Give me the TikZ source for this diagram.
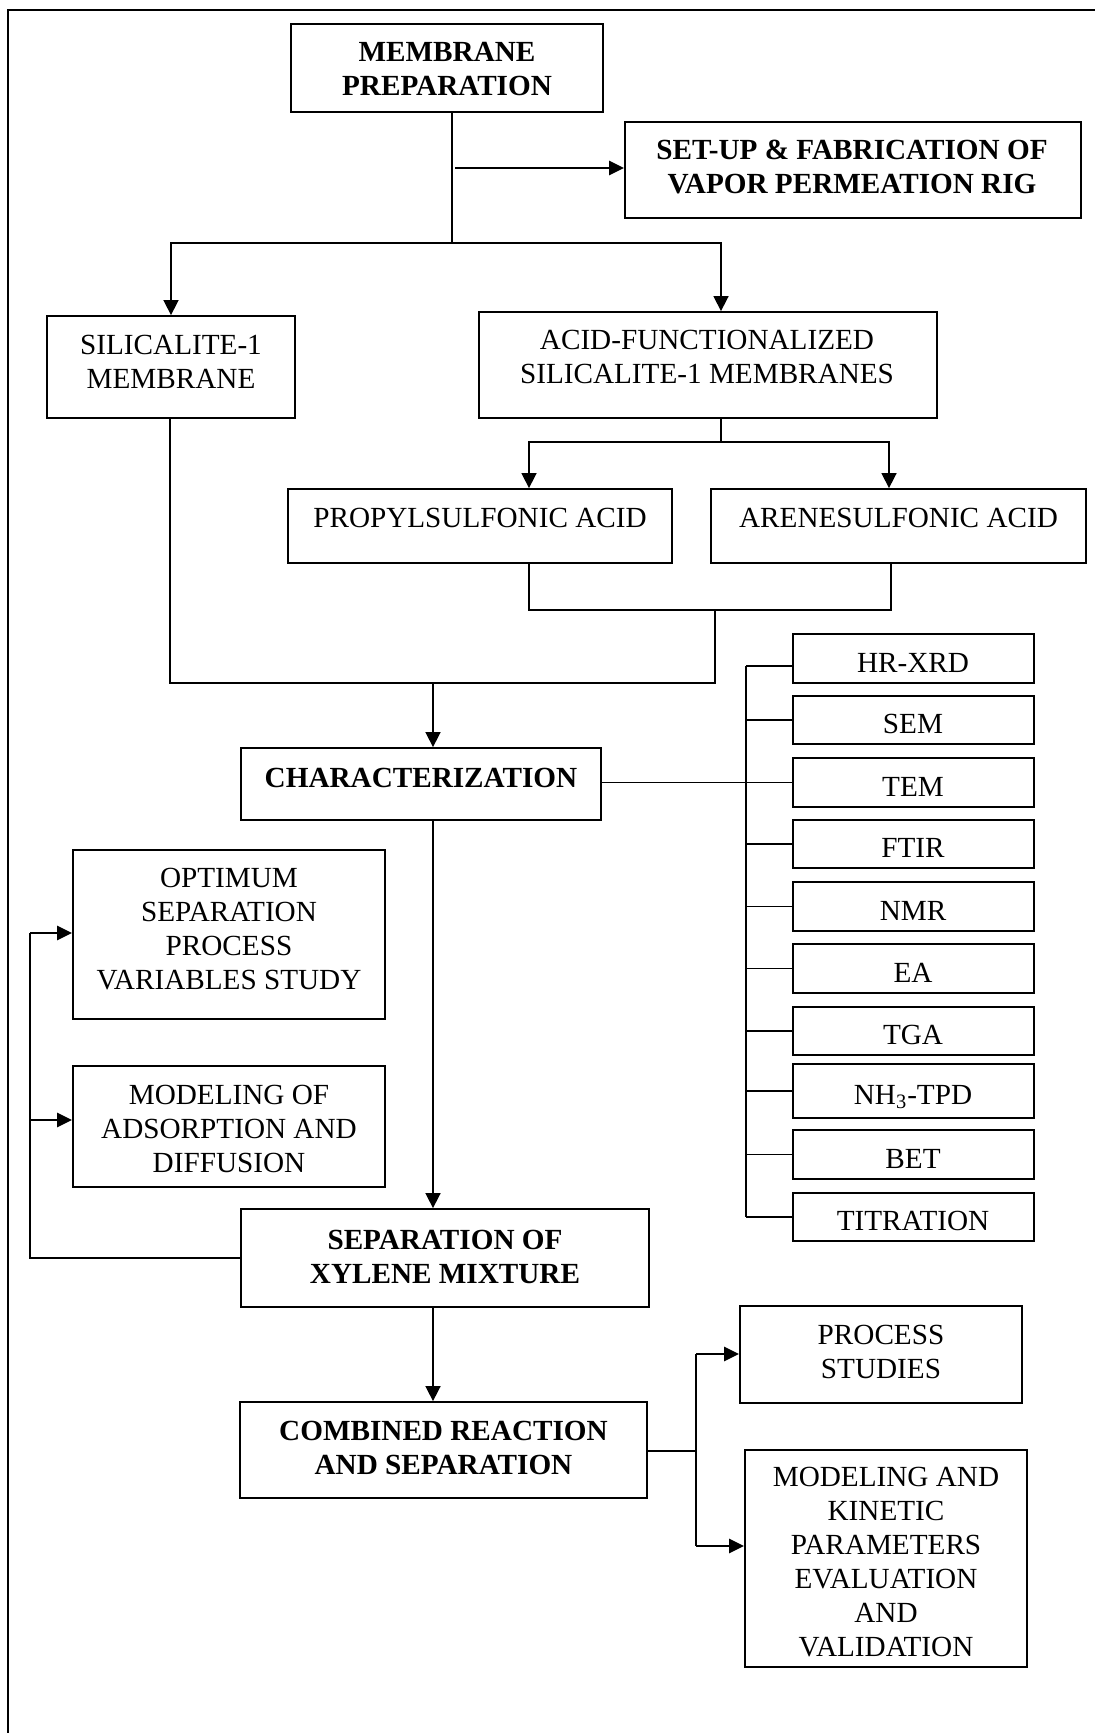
\documentclass[tikz,border=0pt]{standalone}
\usepackage{fontspec}
\setmainfont{Liberation Serif}
\usetikzlibrary{arrows.meta}
\begin{document}
\begin{tikzpicture}[x=0.5pt,y=-0.5pt,
 box/.style={draw, line width=0.9pt, inner sep=0pt, rectangle},
 txt/.style={inner sep=0pt, align=center, font=\fontsize{14.6}{17}\selectfont},
 btxt/.style={inner sep=0pt, align=center, font=\fontsize{14.6}{17}\selectfont\bfseries},
 con/.style={line width=0.8pt},
 arr/.style={line width=0.8pt, -{Triangle[length=7.5pt,width=7.5pt]}},
 tarr/.style={line width=1.35pt, -{Triangle[length=7.5pt,width=7pt]}},
 mid/.style={line width=0.9pt},
]
\useasboundingbox (0,0) rectangle (1095,1733);
% frame (right and bottom edges lie outside the picture)
\coordinate (fr1) at (8,1733);
\coordinate (fr2) at (8,10);
\coordinate (fr3) at (1095,10);
\draw[line width=0.8pt] (fr1) -- (fr2) -- (fr3);

% boxes
\node[box, minimum width=156pt, minimum height=44pt] (mp) at (447,68) {};
\node[box, minimum width=228pt, minimum height=48pt] (setup) at (853,170) {};
\node[box, minimum width=124pt, minimum height=51pt] (sil) at (171,367) {};
\node[box, minimum width=229pt, minimum height=53pt] (acid) at (708,365) {};
\node[box, minimum width=192pt, minimum height=37pt] (prop) at (480,526) {};
\node[box, minimum width=187.5pt, minimum height=37pt] (arene) at (898.5,526) {};
\node[box, minimum width=180pt, minimum height=36pt] (char) at (421,784) {};
\node[box, minimum width=120.5pt, minimum height=24.5pt] (hr) at (913.5,658.5) {};
\node[box, minimum width=120.5pt, minimum height=24pt] (sem) at (913.5,720) {};
\node[box, minimum width=120.5pt, minimum height=24.5pt] (tem) at (913.5,782.5) {};
\node[box, minimum width=120.5pt, minimum height=24pt] (ftir) at (913.5,844) {};
\node[box, minimum width=120.5pt, minimum height=24.5pt] (nmr) at (913.5,906.5) {};
\node[box, minimum width=120.5pt, minimum height=24.5pt] (ea) at (913.5,968.5) {};
\node[box, minimum width=120.5pt, minimum height=24pt] (tga) at (913.5,1031) {};
\node[box, minimum width=120.5pt, minimum height=27pt] (nh3) at (913.5,1091) {};
\node[box, minimum width=120.5pt, minimum height=24.5pt] (bet) at (913.5,1154.5) {};
\node[box, minimum width=120.5pt, minimum height=24pt] (tit) at (913.5,1217) {};
\node[box, minimum width=156pt, minimum height=84.5pt] (opt) at (229,934.5) {};
\node[box, minimum width=156pt, minimum height=60.5pt] (modads) at (229,1126.5) {};
\node[box, minimum width=204pt, minimum height=49pt] (sep) at (445,1258) {};
\node[box, minimum width=203.5pt, minimum height=48pt] (comb) at (443.5,1450) {};
\node[box, minimum width=141pt, minimum height=48.5pt] (proc) at (881,1354.5) {};
\node[box, minimum width=141pt, minimum height=108.5pt] (modkin) at (886,1558.5) {};

% texts
\node[btxt] (t-mp) at (447,69) {MEMBRANE\\PREPARATION};
\node[btxt] (t-setup) at (852,167.5) {SET-UP \& FABRICATION OF\\VAPOR PERMEATION RIG};
\node[txt] (t-sil) at (171,361.5) {SILICALITE-1\\MEMBRANE};
\node[txt] (t-acid) at (707,356.5) {ACID-FUNCTIONALIZED\\SILICALITE-1 MEMBRANES};
\node[txt] (t-prop) at (480,518) {PROPYLSULFONIC ACID};
\node[txt] (t-arene) at (898.5,518) {ARENESULFONIC ACID};
\node[btxt] (t-char) at (421,778) {CHARACTERIZATION};
\node[txt] (t-hr) at (913,663) {HR-XRD};
\node[txt] (t-sem) at (913,724) {SEM};
\node[txt] (t-tem) at (913,786.5) {TEM};
\node[txt] (t-ftir) at (913,848) {FTIR};
\node[txt] (t-nmr) at (913,910.5) {NMR};
\node[txt] (t-ea) at (913,972.5) {EA};
\node[txt] (t-tga) at (913,1035) {TGA};
\node[txt] (t-nh3) at (913,1097) {NH\textsubscript{3}-TPD};
\node[txt] (t-bet) at (913,1158.5) {BET};
\node[txt] (t-tit) at (913,1221) {TITRATION};
\node[txt] (t-opt) at (229,929) {OPTIMUM\\SEPARATION\\PROCESS\\VARIABLES STUDY};
\node[txt] (t-modads) at (229,1128.5) {MODELING OF\\ADSORPTION AND\\DIFFUSION};
\node[btxt] (t-sep) at (445,1256.5) {SEPARATION OF\\XYLENE MIXTURE};
\node[btxt] (t-comb) at (443.5,1447.5) {COMBINED REACTION\\AND SEPARATION};
\node[txt] (t-proc) at (881,1351.5) {PROCESS\\STUDIES};
\node[txt] (t-modkin) at (886,1562.5) {MODELING AND\\KINETIC\\PARAMETERS\\EVALUATION\\AND\\VALIDATION};

% junction points
\coordinate (j1) at (452,243);
\coordinate (j1r) at (721,243);
\coordinate (a1) at (455,168);
\coordinate (j2) at (721,442);
\coordinate (j2l) at (529,442);
\coordinate (j2r) at (889,442);
\coordinate (j3l) at (529,610);
\coordinate (j3r) at (891,610);
\coordinate (j3) at (715,610);
\coordinate (j4) at (715,683);
\coordinate (j4l) at (170,683);
\coordinate (j5) at (433,683);
\coordinate (bt) at (746,666);
\coordinate (fbt) at (30,933);
\coordinate (fbm) at (30,1120);
\coordinate (k) at (696,1451);
\coordinate (kt) at (696,1354);
\coordinate (kb) at (696,1546);

% connectors
\draw[con] (mp.south -| j1) -- (j1);
\draw[tarr] (a1) -- (a1 -| setup.west);
\draw[arr] (j1) -| (sil.north);
\draw[arr] (j1) -- (j1r) -- (j1r |- acid.north);
\draw[con] (acid.south -| j2) -- (j2);
\draw[arr] (j2) -- (j2l) -- (j2l |- prop.north);
\draw[arr] (j2) -- (j2r) -- (j2r |- arene.north);
\draw[con] (prop.south -| j3l) -- (j3l) -- (j3r) -- (j3r |- arene.south);
\draw[con] (j3) -- (j4) -- (j4l) -- (j4l |- sil.south);
\draw[arr] (j5) -- (j5 |- char.north);
\draw[con] (char.east |- tem.west) -- (tem.west);
\draw[con] (bt) -- (bt |- tit.west);
\draw[con] (bt) -- (bt -| hr.west);
\draw[con] (bt |- sem.west) -- (sem.west);
\draw[con] (bt |- ftir.west) -- (ftir.west);
\draw[con] (bt |- nmr.west) -- (nmr.west);
\draw[con] (bt |- ea.west) -- (ea.west);
\draw[con] (bt |- tga.west) -- (tga.west);
\draw[con] (bt |- nh3.west) -- (nh3.west);
\draw[con] (bt |- bet.west) -- (bet.west);
\draw[con] (bt |- tit.west) -- (tit.west);
\draw[arr] (j5 |- char.south) -- (j5 |- sep.north);
\draw[con] (sep.west) -- (sep.west -| fbt) -- (fbt);
\draw[tarr] (fbt) -- (fbt -| opt.west);
\draw[tarr] (fbm) -- (fbm -| modads.west);
\draw[arr] (j5 |- sep.south) -- (j5 |- comb.north);
\draw[mid] (comb.east |- k) -- (k);
\draw[mid] (kt) -- (kb);
\draw[tarr] (kt) -- (kt -| proc.west);
\draw[tarr] (kb) -- (kb -| modkin.west);
\end{tikzpicture}
\end{document}
